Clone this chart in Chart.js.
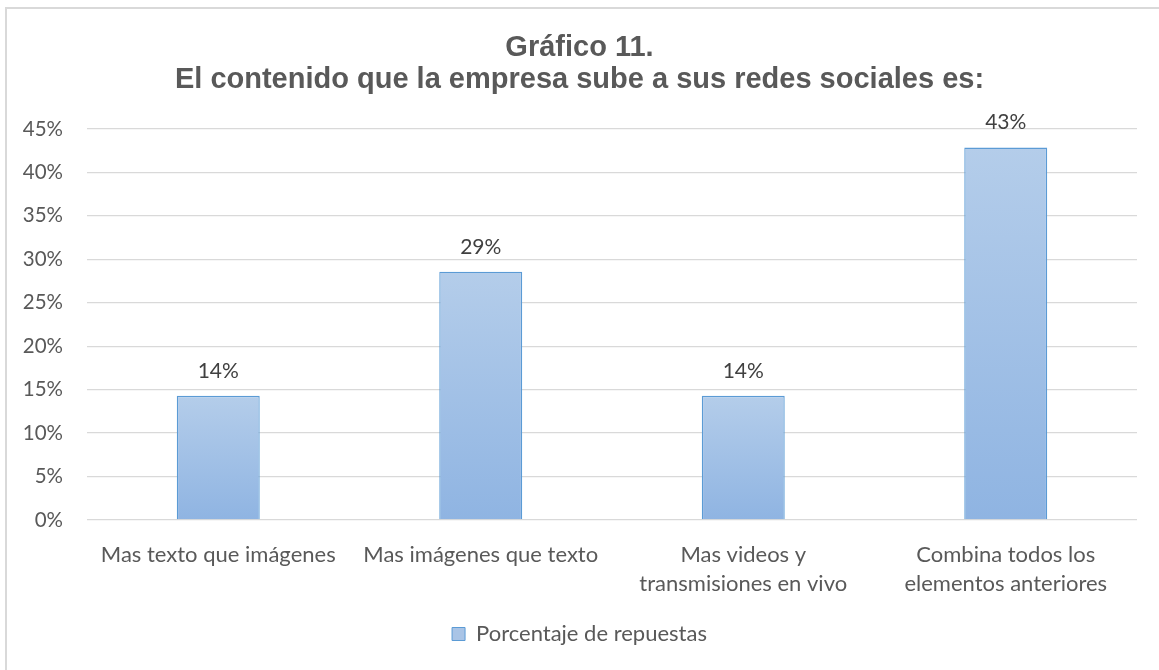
<!DOCTYPE html>
<html>
<head>
<meta charset="utf-8">
<script src="https://cdn.jsdelivr.net/npm/chart.js@4.4.0/dist/chart.umd.min.js"></script>
<style>
  html, body { margin: 0; padding: 0; background: #fff; overflow: hidden; }
  #frame { position: absolute; left: 5px; top: 7px; width: 1200px; height: 700px; border: 2px solid #d9d9d9; }
  #myChart { position: absolute; left: 0; top: 0; }
</style>
</head>
<body>
<div id="frame"></div>
<canvas id="myChart" width="1159" height="670"></canvas>
<script>
const categories = [
  'Mas texto que imágenes',
  'Mas imágenes que texto',
  ['Mas videos y', 'transmisiones en vivo'],
  ['Combina todos los', 'elementos anteriores']
];
const seriesName = 'Porcentaje de repuestas';
const percentages = [14.29, 28.57, 14.29, 42.86];
const yTicks = [0, 5, 10, 15, 20, 25, 30, 35, 40, 45];

const textGray = '#595959';

// bar fill: light blue at the top of each bar, a bit deeper at the base
function barFill(context) {
  const chart = context.chart;
  const y = chart.scales.y;
  if (!y || context.parsed == null) return '#a7c2e5';
  const top = y.getPixelForValue(context.parsed.y);
  const base = y.getPixelForValue(0);
  const g = chart.ctx.createLinearGradient(0, top, 0, base);
  g.addColorStop(0, '#b4cdea');
  g.addColorStop(1, '#8fb4e2');
  return g;
}

// percentage labels above the bars
const valueLabels = {
  id: 'valueLabels',
  afterDatasetsDraw(chart) {
    const ctx = chart.ctx;
    const meta = chart.getDatasetMeta(0);
    ctx.save();
    ctx.font = '21px Lato';
    ctx.fillStyle = '#404040';
    ctx.textAlign = 'center';
    ctx.textBaseline = 'middle';
    meta.data.forEach((bar, i) => {
      ctx.fillText(Math.round(percentages[i]) + '%', bar.x, bar.y - 25);
    });
    ctx.restore();
  }
};

function initChart() {
  const canvas = document.getElementById('myChart');
  const ctx = canvas.getContext('2d');

  new Chart(ctx, {
    type: 'bar',
    data: {
      labels: categories,
      datasets: [{
        label: seriesName,
        data: percentages,
        backgroundColor: barFill,
        borderColor: '#5b9bd5',
        borderWidth: 1.3,
        categoryPercentage: 1,
        barPercentage: 0.316
      }]
    },
    options: {
      responsive: false,
      animation: false,
      layout: { padding: { left: 0, right: 0, top: 0, bottom: 15 } },
      plugins: {
        title: {
          display: true,
          text: ['Gráfico 11.', 'El contenido que la empresa sube a sus redes sociales es:'],
          color: textGray,
          font: { family: 'Liberation Sans', size: 29, weight: 'bold', lineHeight: '32px' },
          padding: { top: 32, bottom: 33 }
        },
        legend: {
          position: 'bottom',
          labels: {
            color: textGray,
            font: { family: 'Lato', size: 22 },
            boxWidth: 13,
            boxHeight: 13,
            generateLabels() {
              return [{
                text: seriesName,
                fillStyle: '#a9c4e6',
                strokeStyle: '#5b9bd5',
                lineWidth: 1,
                fontColor: textGray,
                datasetIndex: 0
              }];
            }
          }
        },
        tooltip: { enabled: false }
      },
      scales: {
        x: {
          grid: { display: false },
          border: { display: false },
          ticks: {
            color: textGray,
            font: { family: 'Lato', size: 22, lineHeight: 1.32 },
            padding: 12,
            maxRotation: 0,
            autoSkip: false
          },
          afterFit(scale) { scale.height = 93; }
        },
        y: {
          min: 0,
          max: 45,
          afterBuildTicks(scale) { scale.ticks = yTicks.map(v => ({ value: v })); },
          grid: { color: '#d9d9d9', lineWidth: 1.3, drawTicks: false },
          border: { display: false },
          ticks: {
            color: textGray,
            font: { family: 'Lato', size: 20.5 },
            padding: 24,
            callback: v => v + '%'
          },
          afterFit(scale) { scale.width = 87; }
        },
        // empty right-hand gutter so the plot stops short of the frame
        gutter: {
          position: 'right',
          display: true,
          min: 0,
          max: 45,
          grid: { display: false },
          border: { display: false },
          ticks: { display: false },
          afterFit(scale) { scale.width = 22; }
        }
      }
    },
    plugins: [valueLabels]
  });
}

window.addEventListener('load', initChart);
</script>
</body>
</html>
